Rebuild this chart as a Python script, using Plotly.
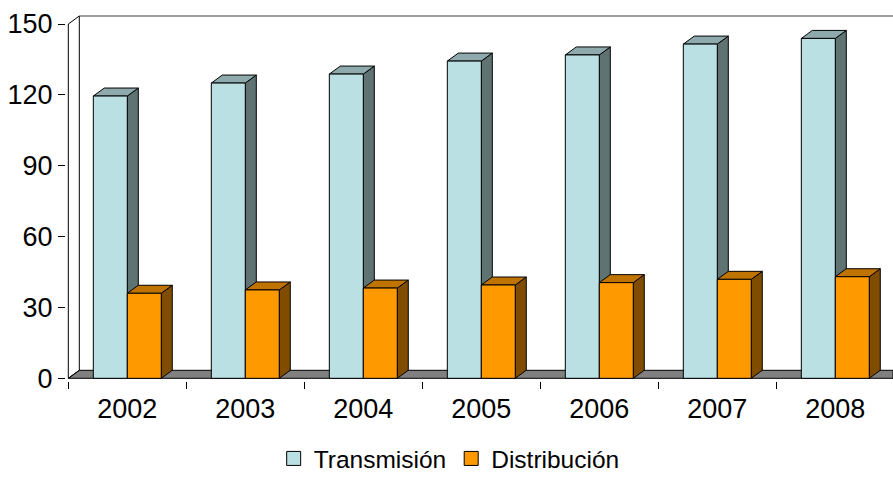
import plotly.graph_objects as go

# --- data ---------------------------------------------------------------
years = ["2002", "2003", "2004", "2005", "2006", "2007", "2008"]
transmision = [119.5, 125.0, 128.8, 134.3, 136.9, 141.5, 143.9]
distribucion = [36.0, 37.4, 38.2, 39.5, 40.5, 41.9, 43.0]
y_ticks = [0, 30, 60, 90, 120, 150]
series_names = ["Transmisión", "Distribución"]

# --- colours (front, top, side) ----------------------------------------
trans_cols = ("#BBE0E3", "#8FAAAC", "#5F7373")
dist_cols = ("#FF9900", "#BF7300", "#804D00")

# --- page geometry (pixels) --------------------------------------------
W, H = 893, 481
L, R, T, B = 66, 0, 14, 100
x_front0 = 68.3        # pixel of the front axis
y_zero, y_top = 378.3, 24.0   # pixels of 0 and 150 on the front axis
px_cat = 118.0         # pixels per category
px_unit = (y_zero - y_top) / 150.0
depth_px = (11.0, 8.0)  # 3-D depth offset

x_min = -0.5 - (x_front0 - L) / px_cat
x_max = -0.5 + (W - R - x_front0) / px_cat
y_min = -((H - B) - y_zero) / px_unit
y_max = (y_zero - T) / px_unit

ddx = depth_px[0] / px_cat
ddy = depth_px[1] / px_unit
bar_w = 0.288


def faces(values, left_off):
    """Return (front, top, side) polygon coordinate lists for a series."""
    fx, fy, tx, ty, sx, sy = [], [], [], [], [], []
    for i, v in enumerate(values):
        x0 = i + left_off
        x1 = x0 + bar_w
        fx += [x0, x1, x1, x0, x0, None]
        fy += [0, 0, v, v, 0, None]
        tx += [x0, x0 + ddx, x1 + ddx, x1, x0, None]
        ty += [v, v + ddy, v + ddy, v, v, None]
        sx += [x1, x1 + ddx, x1 + ddx, x1, x1, None]
        sy += [0, ddy, v + ddy, v, 0, None]
    return (fx, fy), (tx, ty), (sx, sy)


fig = go.Figure()


def poly(xs, ys, fill, line="black", width=1):
    fig.add_trace(go.Scatter(
        x=xs, y=ys, mode="lines", fill="toself", fillcolor=fill,
        line=dict(color=line, width=width), hoverinfo="skip",
        showlegend=False, cliponaxis=False))


def line(xs, ys, color="black", width=1):
    fig.add_trace(go.Scatter(
        x=xs, y=ys, mode="lines", line=dict(color=color, width=width),
        hoverinfo="skip", showlegend=False, cliponaxis=False))


# floor
poly([-0.5, -0.5 + ddx, x_max, x_max, -0.5],
     [0, ddy, ddy, 0, 0], "#808080")
# walls
line([-0.5, -0.5], [0, 150])
line([-0.5, -0.5 + ddx, -0.5 + ddx], [150, 150 + ddy, ddy])
line([-0.5 + ddx, x_max], [150 + ddy, 150 + ddy], color="#404040")
line([-0.5, -0.5 + ddx], [0, ddy])

# bars: side, top, front for each series, back series first
for values, off, cols in ((transmision, -bar_w, trans_cols),
                          (distribucion, 0.0, dist_cols)):
    front, top, side = faces(values, off)
    poly(*side, cols[2])
    poly(*top, cols[1])
    poly(*front, cols[0])

# legend entries
for name, cols in zip(series_names, (trans_cols, dist_cols)):
    fig.add_trace(go.Scatter(
        x=[None], y=[None], mode="markers", name=name,
        marker=dict(symbol="square", size=14, color=cols[0],
                    line=dict(color="black", width=1))))

font = "Arial, Liberation Sans, sans-serif"
fig.update_layout(
    width=W, height=H,
    margin=dict(l=L, r=R, t=T, b=B),
    paper_bgcolor="white", plot_bgcolor="white",
    font=dict(family=font, color="black"),
    showlegend=True,
    legend=dict(orientation="h", xref="container", yref="container",
                x=0.503, y=0.0, xanchor="center", yanchor="bottom",
                font=dict(size=24.5), itemwidth=30, traceorder="normal",
                entrywidthmode="pixels"),
    xaxis=dict(range=[x_min, x_max], showgrid=False, zeroline=False,
               showline=False, tickmode="array",
               tickvals=list(range(len(years))), ticktext=years,
               ticks="", tickfont=dict(size=27), ticklabelstandoff=9,
               minor=dict(tickmode="array",
                          tickvals=[i - 0.5 for i in range(len(years) + 1)],
                          ticks="outside", ticklen=7, tickcolor="black",
                          tickwidth=1, showgrid=False)),
    yaxis=dict(range=[y_min, y_max], showgrid=False, zeroline=False,
               showline=False, tickmode="array", tickvals=y_ticks,
               ticks="outside", ticklen=7, tickcolor="black",
               tickfont=dict(size=27)),
)

fig.write_html("out.html")
